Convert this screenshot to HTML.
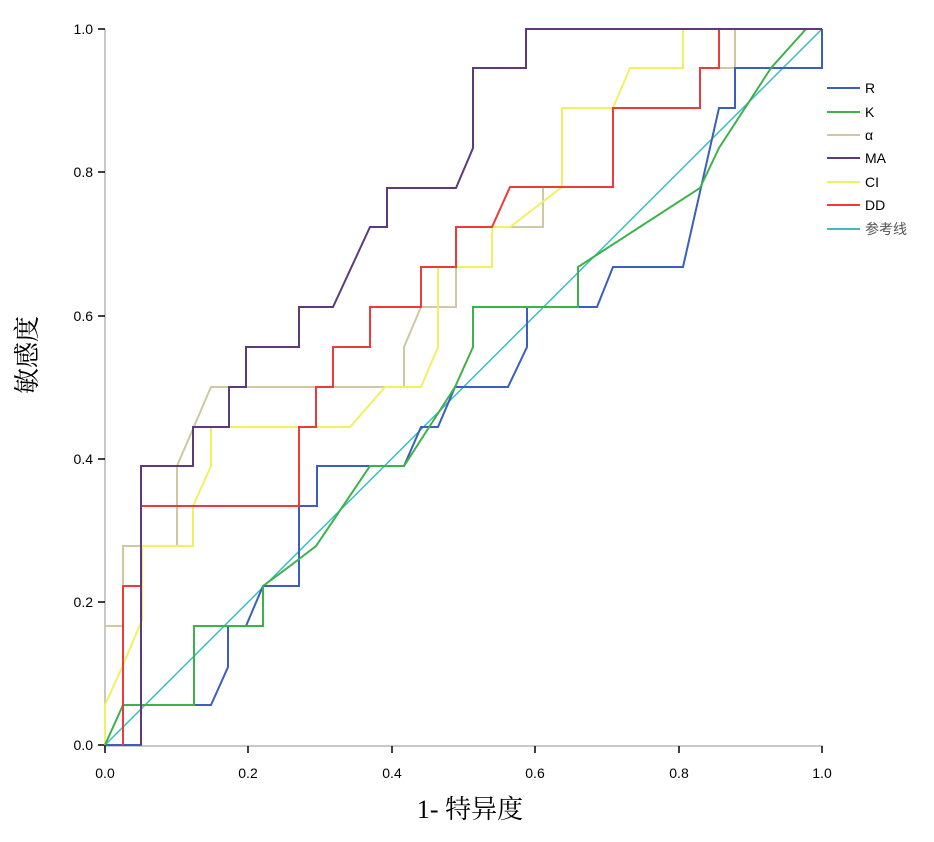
<!DOCTYPE html>
<html><head><meta charset="utf-8"><style>
body{margin:0;background:#fff;}
svg text{font-family:"Liberation Sans",sans-serif;}
</style></head><body>
<svg width="934" height="837" xmlns="http://www.w3.org/2000/svg">
<rect width="934" height="837" fill="#fff"/>
<g stroke="#c8c8c8" stroke-width="2" fill="none">
<line x1="105" y1="29" x2="105" y2="746"/>
<line x1="104" y1="746" x2="823" y2="746"/>
</g>
<g stroke="#000" stroke-width="1.5">
<line x1="98" y1="29" x2="105" y2="29"/><line x1="98" y1="172" x2="105" y2="172"/><line x1="98" y1="316" x2="105" y2="316"/><line x1="98" y1="459" x2="105" y2="459"/><line x1="98" y1="602" x2="105" y2="602"/><line x1="98" y1="745" x2="105" y2="745"/>
<line x1="105" y1="746" x2="105" y2="753"/><line x1="248" y1="746" x2="248" y2="753"/><line x1="392" y1="746" x2="392" y2="753"/><line x1="535" y1="746" x2="535" y2="753"/><line x1="679" y1="746" x2="679" y2="753"/><line x1="822" y1="746" x2="822" y2="753"/>
</g>
<g font-size="14" fill="#000" text-anchor="end">
<text x="93" y="34">1.0</text><text x="93" y="177">0.8</text><text x="93" y="321">0.6</text><text x="93" y="464">0.4</text><text x="93" y="607">0.2</text><text x="93" y="750">0.0</text>
</g>
<g font-size="14" fill="#000" text-anchor="middle">
<text x="105" y="778">0.0</text><text x="248" y="778">0.2</text><text x="392" y="778">0.4</text><text x="535" y="778">0.6</text><text x="679" y="778">0.8</text><text x="822" y="778">1.0</text>
</g>
<text x="470" y="818" font-size="26" text-anchor="middle" style='font-family:"Liberation Serif","Noto Serif CJK SC",serif'>1- 特异度</text>
<text transform="translate(36,355) rotate(-90)" font-size="26" text-anchor="middle" style='font-family:"Liberation Serif","Noto Serif CJK SC",serif'>敏感度</text>
<g fill="none" stroke-width="2">
<polyline stroke="#3bbfc0" stroke-width="1.5" points="105,745 822,29"/>
<polyline stroke="#cfc8a0" points="105,626 123,626 123,546 177,546 177,466 211,387 404,387 404,347 421,307 456,307 456,267 492,267 492,227 543,227 543,187 613,187 613,108 700,108 700,68 735,68 735,29 822,29"/>
<polyline stroke="#f2f060" points="105,745 105,705 123,665 142,620 142,546 193,546 193,506 211,466 211,427 350,427 385,387 421,387 438,347 438,267 492,267 492,227 510,227 562,187 562,108 613,108 630,68 683,68 683,29 822,29"/>
<polyline stroke="#3a5fc0" points="105,745 141,745 141,705 211,705 228,667 228,626 246,626 263,586 299,586 299,506 317,506 317,466 404,466 421,427 438,427 455,387 508,387 527,347 527,307 597,307 613,267 683,267 719,108 735,108 735,68 822,68 822,29"/>
<polyline stroke="#3cb34a" points="105,745 123,705 194,705 194,626 263,626 263,586 290,566 316,546 370,466 404,466 455,387 473,347 473,307 578,307 578,267 700,188 719,148 771,68 806,29"/>
<polyline stroke="#f03a3a" points="123,745 123,586 141,586 141,506 299,506 299,427 316,427 316,387 333,387 333,347 370,347 370,307 421,307 421,267 456,267 456,227 492,227 510,187 613,187 613,108 700,108 700,68 719,68 719,29 822,29"/>
<polyline stroke="#5e3a7a" points="141,745 141,466 193,466 193,427 229,427 229,387 246,387 246,347 299,347 299,307 333,307 370,227 387,227 387,188 456,188 473,148 473,68 526,68 526,29 822,29"/>
</g>
<g stroke-width="2">
<line x1="827" y1="88" x2="860" y2="88" stroke="#3a5fc0"/>
<line x1="827" y1="112" x2="860" y2="112" stroke="#3cb34a"/>
<line x1="827" y1="135" x2="860" y2="135" stroke="#cfc8a0"/>
<line x1="827" y1="158" x2="860" y2="158" stroke="#5e3a7a"/>
<line x1="827" y1="182" x2="860" y2="182" stroke="#f2f060"/>
<line x1="827" y1="205" x2="860" y2="205" stroke="#f03a3a"/>
<line x1="827" y1="229" x2="860" y2="229" stroke="#3bbfc0"/>
</g>
<g font-size="14" fill="#000">
<text x="865" y="93">R</text><text x="865" y="117">K</text><text x="865" y="140">α</text><text x="865" y="163">MA</text><text x="865" y="187">CI</text><text x="865" y="210">DD</text>
<text x="865" y="234" fill="#555" style='font-family:"Liberation Sans","Noto Sans CJK SC",sans-serif'>参考线</text>
</g>
</svg>
</body></html>
